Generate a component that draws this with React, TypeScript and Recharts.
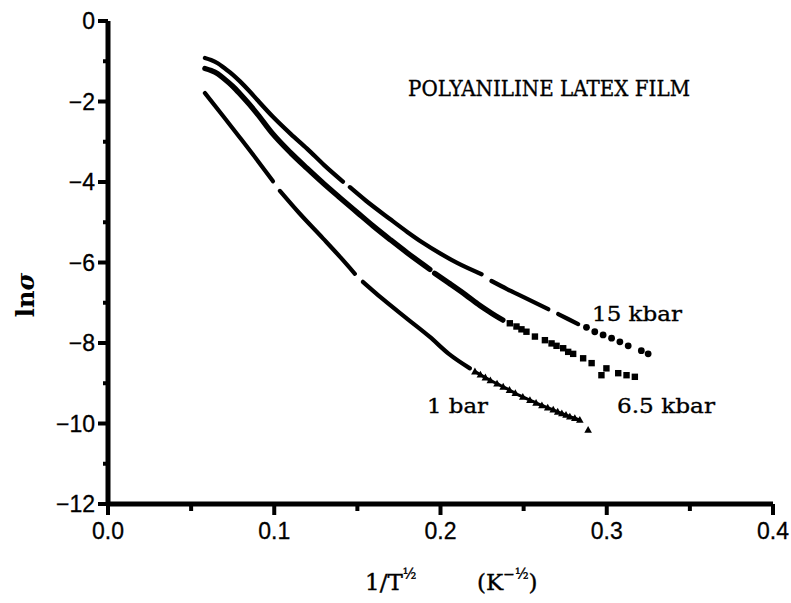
import { ScatterChart, Scatter, XAxis, YAxis } from "recharts";

type Pt = [number, number];

// 15 kbar: dense runs (drawn as thick strokes) and the sparse tail of dots
const kbar15Runs: Pt[][] = [
  [[0.0583, -0.92], [0.062, -0.97], [0.066, -1.05], [0.07, -1.17], [0.075, -1.33], [0.0794, -1.5], [0.085, -1.74], [0.09, -1.97], [0.0992, -2.38], [0.11, -2.81], [0.1197, -3.17], [0.13, -3.58], [0.1413, -3.99]],
  [[0.1455, -4.13], [0.155, -4.46], [0.1696, -4.92], [0.18, -5.24], [0.1894, -5.51], [0.2, -5.78], [0.21, -6.01], [0.2247, -6.29]],
  [[0.2307, -6.46], [0.24, -6.66], [0.25, -6.86], [0.2648, -7.16]],
  [[0.2708, -7.28], [0.277, -7.41], [0.2828, -7.53]],
];
const kbar15Dots: Pt[] = [
  [0.2878, -7.61], [0.2928, -7.72], [0.2978, -7.8], [0.3029, -7.88],
  [0.3079, -7.97], [0.3129, -8.07], [0.3208, -8.19], [0.3249, -8.27],
];

// 6.5 kbar
const kbar65Runs: Pt[][] = [
  [[0.0583, -1.18], [0.062, -1.23], [0.066, -1.31], [0.07, -1.44], [0.075, -1.62], [0.0794, -1.81], [0.085, -2.07], [0.09, -2.32], [0.0992, -2.81], [0.11, -3.28], [0.1197, -3.66], [0.13, -4.05], [0.1395, -4.39], [0.15, -4.76], [0.1594, -5.09], [0.17, -5.44], [0.18, -5.76], [0.1936, -6.17]],
  [[0.1965, -6.27], [0.205, -6.51], [0.215, -6.8], [0.2237, -7.07], [0.23, -7.24], [0.2375, -7.43]],
];
const kbar65Squares: Pt[] = [
  [0.2417, -7.51], [0.2457, -7.59], [0.2487, -7.66], [0.2517, -7.72], [0.2568, -7.84],
  [0.2628, -7.93], [0.2668, -8.01], [0.2698, -8.07], [0.2738, -8.13], [0.2768, -8.22],
  [0.2798, -8.27], [0.2858, -8.38], [0.2909, -8.5], [0.2968, -8.8], [0.2998, -8.63],
  [0.3069, -8.75], [0.3119, -8.8], [0.3169, -8.84],
];

// 1 bar
const bar1Runs: Pt[][] = [
  [[0.0583, -1.79], [0.0692, -2.36], [0.0794, -2.9], [0.09, -3.47], [0.0992, -3.98]],
  [[0.1034, -4.22], [0.115, -4.77], [0.1293, -5.4], [0.14, -5.88], [0.1485, -6.28]],
  [[0.1533, -6.48], [0.165, -6.9], [0.18, -7.4], [0.1936, -7.85], [0.205, -8.27], [0.2177, -8.63]],
];
const bar1Tail: Pt[] = [
  [0.2207, -8.71], [0.224, -8.79], [0.227, -8.86], [0.23, -8.93], [0.234, -9.01],
  [0.2377, -9.09], [0.2415, -9.17], [0.245, -9.25], [0.2495, -9.34], [0.2538, -9.42],
  [0.2575, -9.49], [0.261, -9.55], [0.2645, -9.61], [0.2678, -9.66], [0.2705, -9.71],
  [0.273, -9.75], [0.2755, -9.79], [0.2778, -9.83], [0.2808, -9.87], [0.2838, -9.91],
];
const bar1Last: Pt[] = [[0.2888, -10.16]];

const xTicks = [0, 0.05, 0.1, 0.15, 0.2, 0.25, 0.3, 0.35, 0.4];
const yTicks = [0, -1, -2, -3, -4, -5, -6, -7, -8, -9, -10, -11, -12];

const toXY = (pts: Pt[]) => pts.map(([x, y]) => ({ x, y }));

const SANS = "'Liberation Sans', Arial, sans-serif";
const SERIF = "'DejaVu Serif', serif";

const NoMark = () => <g />;
const DotMark = (p: any) => <circle cx={p.cx} cy={p.cy} r={3.4} fill="#000" />;
const SquareMark = (p: any) => (
  <rect x={p.cx - 3.2} y={p.cy - 3.2} width={6.4} height={6.4} fill="#000" />
);
const TriMark = (p: any) => (
  <path
    d={`M${p.cx},${p.cy - 4}L${p.cx + 3.8},${p.cy + 2.8}L${p.cx - 3.8},${p.cy + 2.8}Z`}
    fill="#000"
  />
);

const XTick = (props: any) => {
  const { x, y, payload } = props;
  const v: number = payload.value;
  const major = Math.abs(v * 10 - Math.round(v * 10)) < 1e-6;
  return (
    <g>
      <line
        x1={x}
        x2={x}
        y1={v === 0 ? y - 6 : y}
        y2={y + (major ? 11 : 7)}
        stroke="#000"
        strokeWidth={4}
      />
      {major && (
        <text
          x={x}
          y={y + 35}
          textAnchor="middle"
          fontFamily={SANS}
          fontSize={23}
          fill="#000"
          stroke="#000"
          strokeWidth={0.3}
        >
          {v.toFixed(1)}
        </text>
      )}
    </g>
  );
};

const YTick = (props: any) => {
  const { x, y, payload } = props;
  const v: number = payload.value;
  const major = v % 2 === 0;
  return (
    <g>
      <line x1={x} x2={x - (major ? 10 : 5)} y1={y} y2={y} stroke="#000" strokeWidth={4} />
      {major && (
        <text
          x={x - 13}
          y={y + 8}
          textAnchor="end"
          fontFamily={SANS}
          fontSize={23}
          fill="#000"
          stroke="#000"
          strokeWidth={0.3}
        >
          {v === 0 ? "0" : `\u2212${Math.abs(v)}`}
        </text>
      )}
    </g>
  );
};

const runLine = (w: number) => ({ stroke: "#000", strokeWidth: w, strokeLinecap: "round" as const });
const axisStyle = { stroke: "#000", strokeWidth: 5 };

export default function App() {
  return (
    <div style={{ position: "relative", width: 791, height: 603, background: "#fff" }}>
      <style>{`body{margin:0}`}</style>
      <ScatterChart width={791} height={603} margin={{ top: 21, right: 18, bottom: 0, left: 0 }}>
        <XAxis
          type="number"
          dataKey="x"
          domain={[0, 0.4]}
          ticks={xTicks}
          interval={0}
          height={99}
          tickSize={0}
          tickMargin={0}
          tickLine={false}
          tick={<XTick />}
          stroke="#000"
          strokeWidth={5}
          axisLine={axisStyle}
          allowDataOverflow
        />
        <YAxis
          type="number"
          dataKey="y"
          domain={[-12, 0]}
          ticks={yTicks}
          interval={0}
          width={108}
          tickSize={0}
          tickMargin={0}
          tickLine={false}
          tick={<YTick />}
          stroke="#000"
          strokeWidth={5}
          axisLine={axisStyle}
          allowDataOverflow
        />
        {kbar15Runs.map((run, i) => (
          <Scatter
            key={`k15-${i}`}
            data={toXY(run)}
            fill="#000"
            line={runLine(4.3)}
            lineJointType="monotoneX"
            shape={NoMark}
            isAnimationActive={false}
          />
        ))}
        <Scatter data={toXY(kbar15Dots)} fill="#000" shape={DotMark} isAnimationActive={false} />
        {kbar65Runs.map((run, i) => (
          <Scatter
            key={`k65-${i}`}
            data={toXY(run)}
            fill="#000"
            line={runLine(5.4)}
            lineJointType="monotoneX"
            shape={NoMark}
            isAnimationActive={false}
          />
        ))}
        <Scatter data={toXY(kbar65Squares)} fill="#000" shape={SquareMark} isAnimationActive={false} />
        {bar1Runs.map((run, i) => (
          <Scatter
            key={`b1-${i}`}
            data={toXY(run)}
            fill="#000"
            line={runLine(4.2)}
            lineJointType="monotoneX"
            shape={NoMark}
            isAnimationActive={false}
          />
        ))}
        <Scatter
          data={toXY(bar1Tail)}
          fill="#000"
          line={{ stroke: "#000", strokeWidth: 3 }}
          lineJointType="monotoneX"
          shape={TriMark}
          isAnimationActive={false}
        />
        <Scatter data={toXY(bar1Last)} fill="#000" shape={TriMark} isAnimationActive={false} />
      </ScatterChart>

      <svg
        width={791}
        height={603}
        style={{ position: "absolute", left: 0, top: 0, pointerEvents: "none" }}
      >
        <g fill="#000" stroke="#000" strokeWidth={0.35}>
          <text x={408} y={96} fontFamily={SERIF} fontSize={22} textLength={282} lengthAdjust="spacingAndGlyphs">
            POLYANILINE LATEX FILM
          </text>
          <text x={592} y={321} fontFamily={SERIF} fontSize={21} textLength={90} lengthAdjust="spacingAndGlyphs">
            15 kbar
          </text>
          <text x={617} y={413} fontFamily={SERIF} fontSize={21} textLength={98} lengthAdjust="spacingAndGlyphs">
            6.5 kbar
          </text>
          <text x={427} y={413} fontFamily={SERIF} fontSize={21} textLength={61} lengthAdjust="spacingAndGlyphs">
            1 bar
          </text>
        </g>
        <text
          x={34}
          y={295}
          transform="rotate(-90, 34, 295)"
          textAnchor="middle"
          fontFamily={SERIF}
          fontWeight="bold"
          fontSize={24}
        >
          ln<tspan fontStyle="italic">σ</tspan>
        </text>
        <g fill="#000" stroke="#000" strokeWidth={0.4}>
          <text x={365} y={590} fontFamily={SERIF} fontSize={23}>
            1/T<tspan fontSize={14} dy={-11}>½</tspan>
          </text>
          <text x={477} y={590} fontFamily={SERIF} fontSize={23}>
            (K<tspan fontSize={14} dy={-11}>−½</tspan>
            <tspan dy={11}>)</tspan>
          </text>
        </g>
      </svg>
    </div>
  );
}
